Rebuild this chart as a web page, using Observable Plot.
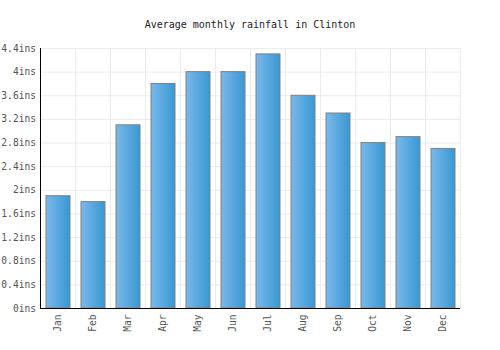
<!DOCTYPE html>
<html>
<head>
<meta charset="utf-8">
<script src="https://cdn.jsdelivr.net/npm/d3@7"></script>
<script src="https://cdn.jsdelivr.net/npm/@observablehq/plot@0.6"></script>
<style>
  body { margin: 0; background: #fff; }
  #title { width: 500px; height: 21px; padding-top: 19px; text-align: center; font-family: "DejaVu Sans Mono", monospace; font-size: 10px; line-height: 12px; color: #222; }
</style>
</head>
<body>
<div id="title">Average monthly rainfall in Clinton</div>
<div id="chart"></div>
<script>
const months = ["Jan", "Feb", "Mar", "Apr", "May", "Jun", "Jul", "Aug", "Sep", "Oct", "Nov", "Dec"];
const rainfall = [1.9, 1.8, 3.1, 3.8, 4.0, 4.0, 4.3, 3.6, 3.3, 2.8, 2.9, 2.7];
const yTicks = [0, 0.4, 0.8, 1.2, 1.6, 2, 2.4, 2.8, 3.2, 3.6, 4, 4.4];

const data = months.map((m, i) => ({ i, month: m, value: rainfall[i] }));
const bandEdges = d3.range(1, months.length + 1);
const bandCenters = months.map((m, i) => i + 0.5);

const plot = Plot.plot({
  width: 500,
  height: 310,
  marginTop: 8,
  marginBottom: 42,
  marginLeft: 40,
  marginRight: 40,
  style: { fontFamily: "DejaVu Sans Mono, monospace", fontSize: "9.6px", color: "#555", background: "white", overflow: "visible" },
  x: {
    domain: [0, months.length],
    ticks: bandCenters,
    tickFormat: d => months[Math.floor(d)],
    tickSize: 0,
    tickPadding: 6,
    tickRotate: -90,
    label: null
  },
  y: {
    domain: [0, 4.4],
    ticks: yTicks,
    tickFormat: d => `${+d.toFixed(1)}ins`,
    tickSize: 0,
    tickPadding: 4.5,
    label: null
  },
  marks: [
    Plot.ruleY(yTicks, { stroke: "#ebebeb", strokeWidth: 1 }),
    Plot.ruleX(bandEdges, { stroke: "#ebebeb", strokeWidth: 1 }),
    Plot.rect(data, {
      x1: "i",
      x2: d => d.i + 1,
      y1: 0,
      y2: "value",
      insetLeft: 6,
      insetRight: 5,
      fill: "url(#barGrad)",
      stroke: "#808080",
      strokeWidth: 1
    }),
    Plot.ruleY([0], { stroke: "#000", strokeWidth: 1 }),
    Plot.ruleX([0], { stroke: "#000", strokeWidth: 1 })
  ]
});

const svg = d3.select(plot.tagName.toLowerCase() === "svg" ? plot : plot.querySelector("svg"));
const grad = svg.insert("defs", ":first-child")
  .append("linearGradient")
  .attr("id", "barGrad")
  .attr("x1", "0%").attr("x2", "100%").attr("y1", "0%").attr("y2", "0%");
grad.append("stop").attr("offset", "0%").attr("stop-color", "#7ab8eb");
grad.append("stop").attr("offset", "100%").attr("stop-color", "#3898d2");

document.getElementById("chart").appendChild(plot);
</script>
</body>
</html>
